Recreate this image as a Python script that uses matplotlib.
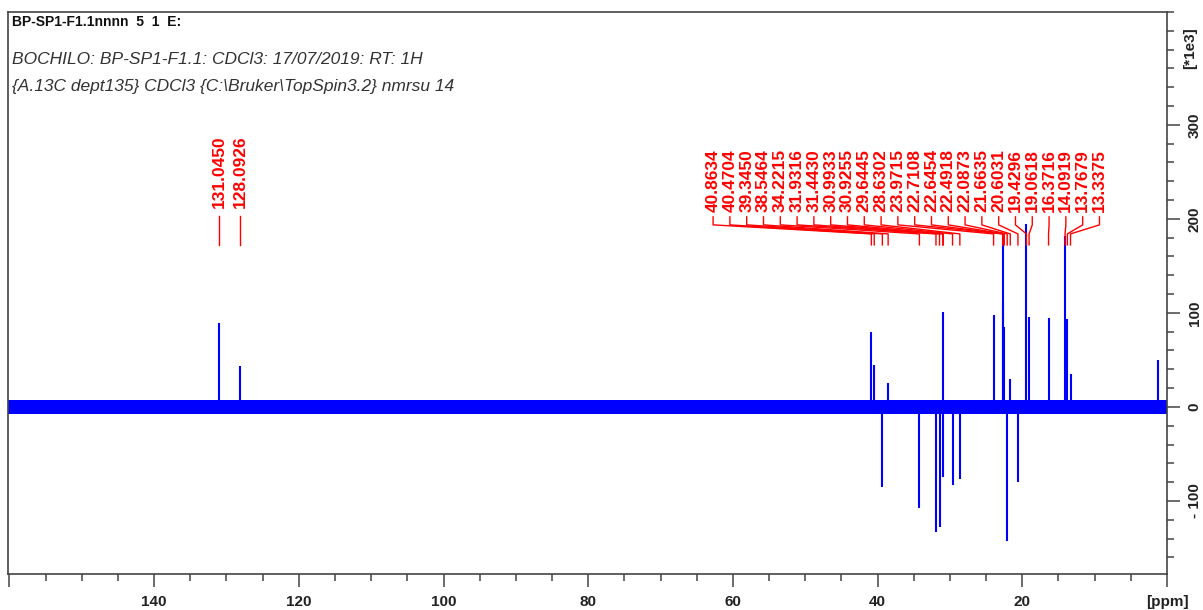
import matplotlib
matplotlib.use("Agg")
import matplotlib.pyplot as plt
from matplotlib.ticker import MultipleLocator

# DEPT-135 peak list: shift (ppm) and intensity (*1e3), negative = CH2
peak_ppm = [131.0450, 128.0926, 40.8634, 40.4704, 39.3450, 38.5464, 34.2215,
            31.9316, 31.4430, 30.9933, 30.9255, 29.6445, 28.6302, 23.9715,
            22.7108, 22.6454, 22.4918, 22.0873, 21.6635, 20.6031, 19.4296,
            19.0618, 16.3716, 14.0919, 13.7679, 13.3375]
peak_int = [89, 44, 80, 45, -85, 25, -107,
            -133, -128, 101, -75, -83, -77, 98,
            110, 182, 85, -143, 30, -80, 195,
            96, 95, 182, 94, 35]

# unlabelled signal near the right edge
extra_ppm = [1.30]
extra_int = [50]

# baseline noise envelope
noise_ppm = [160.2, 0.0]
noise_lo = [-7.5, -7.5]
noise_hi = [7.5, 7.5]

title = "BP-SP1-F1.1nnnn  5  1  E:"
info1 = "BOCHILO: BP-SP1-F1.1: CDCl3: 17/07/2019: RT: 1H"
info2 = "{A.13C dept135} CDCl3 {C:\\Bruker\\TopSpin3.2} nmrsu 14"

blue = "#0000ff"
red = "#ff0000"
font = "Liberation Sans"

fig = plt.figure(figsize=(12.03, 6.10), dpi=100)
W, H = 1203, 610
ax = fig.add_axes([8 / W, 1 - 574 / H, (1167 - 8) / W, (574 - 12) / H])
ax.set_xlim(160.2, 0)
ax.set_ylim(-177.7, 420)

ax.fill_between(noise_ppm, noise_lo, noise_hi, color=blue, lw=0)
ax.vlines(peak_ppm, 0, peak_int, color=blue, lw=1.5)
ax.vlines(extra_ppm, 0, extra_int, color=blue, lw=1.5)

# peak labels: first two sit on their own peaks, the rest are fanned out
lab_kw = dict(rotation=90, ha="center", va="bottom", color=red,
              fontsize=12.5, fontweight="bold", family=font)
for p in peak_ppm[:2]:
    ax.plot([p, p], [203, 172.3], color=red, lw=1)
    ax.text(p, 211.7, f"{p:.4f}", **lab_kw)
for i, p in enumerate(peak_ppm[2:]):
    lx = 62.74 - i * 2.322
    ax.plot([lx, lx, p, p], [202.1, 193.6, 184, 172.3], color=red, lw=1)
    ax.text(lx, 207.4, f"{p:.4f}", **lab_kw)

# axes styling
for s in ax.spines.values():
    s.set_color("#444444")
    s.set_linewidth(1.2)

ax.set_xticks(list(range(160, -1, -20)))
ax.set_xticklabels(["", "140", "120", "100", "80", "60", "40", "20", "[ppm]"])
ax.xaxis.set_minor_locator(MultipleLocator(5))
ax.yaxis.tick_right()
ax.set_yticks([-100, 0, 100, 200, 300])
ax.set_yticklabels(["- 100", "0", "100", "200", "300"], rotation=90, va="center")
ax.yaxis.set_minor_locator(MultipleLocator(20))
ax.tick_params(which="major", length=9, width=1.1, color="#444444", pad=6)
ax.tick_params(which="minor", length=5, width=1.1, color="#444444")
for t in ax.get_xticklabels() + ax.get_yticklabels():
    t.set_fontfamily(font)
    t.set_fontweight("bold")
    t.set_fontsize(11)
    t.set_color("#222222")

fig.text(1190 / W, 1 - 48 / H, "[*1e3]", rotation=90, ha="center", va="center",
         family=font, fontweight="bold", fontsize=11, color="#222222")

fig.text(12 / W, 1 - 22 / H, title, ha="left", va="center", family=font,
         fontweight="bold", fontsize=10, color="#111111")
fig.text(12 / W, 1 - 60 / H, info1, ha="left", va="center", family=font,
         style="italic", fontsize=12.5, color="#333333")
fig.text(12 / W, 1 - 87 / H, info2, ha="left", va="center", family=font,
         style="italic", fontsize=12.5, color="#333333")

fig.savefig("out.png", dpi=100)
